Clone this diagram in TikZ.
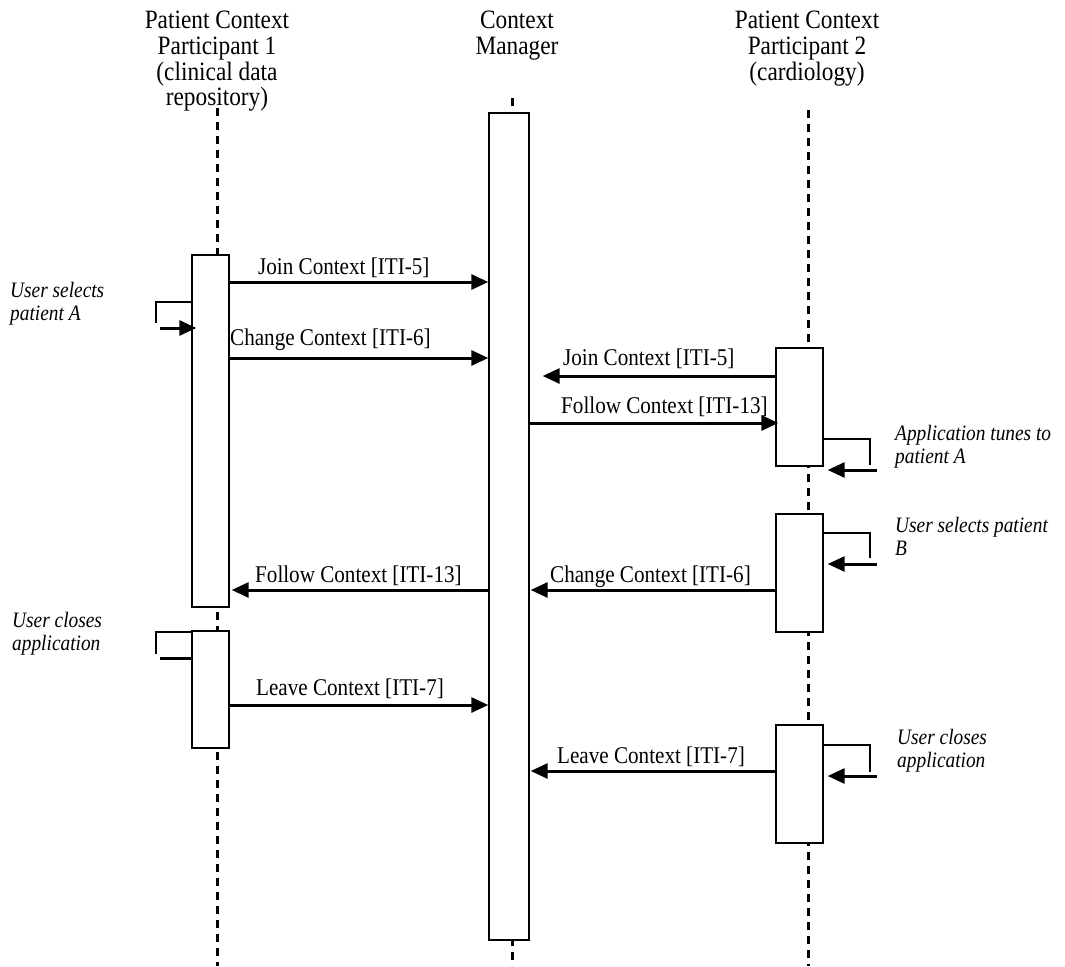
\documentclass[tikz,border=0pt]{standalone}
\usepackage{fontspec}
\setmainfont{Liberation Serif}[FakeStretch=0.88]
\usetikzlibrary{arrows.meta}
\begin{document}
\begin{tikzpicture}[x=1pt,y=-1pt,
  lifeline/.style={line width=3pt,dash pattern=on 8pt off 6pt},
  actbox/.style={draw,line width=1.4pt,fill=white,rectangle,inner sep=0pt},
  msg/.style={line width=3pt,-{Triangle[length=17pt,width=15pt]}},
  thin/.style={line width=1.3pt},
  thick/.style={line width=3pt},
  lbl/.style={anchor=base west,inner sep=0pt,font=\fontsize{24}{24}\selectfont},
  note/.style={anchor=base west,inner sep=0pt,align=left,font=\fontsize{22}{22.5}\selectfont\itshape},
  head/.style={anchor=north,inner sep=0pt,align=center,font=\fontsize{26.5}{25.7}\selectfont}]
\useasboundingbox (0,0) rectangle (1065,966);
% headers
\node[head] (H1) at (217,11) {Patient Context\\Participant 1\\(clinical data\\repository)};
\node[head] (H2) at (517,11) {Context\\Manager};
\node[head] (H3) at (807,11) {Patient Context\\Participant 2\\(cardiology)};
% lifelines
\coordinate (l1t) at (217,108); \coordinate (l1b) at (217,966);
\coordinate (l2t) at (512,98);  \coordinate (l2b) at (512,966);
\coordinate (l3t) at (808,110); \coordinate (l3b) at (808,966);
\draw[lifeline] (l1t) -- (l1b);
\draw[lifeline] (l2t) -- (l2b);
\draw[lifeline] (l3t) -- (l3b);
% activation boxes
\node[actbox,minimum width=37pt,minimum height=352pt] (L1) at (210.5,431) {};
\node[actbox,minimum width=37pt,minimum height=117pt] (L2) at (210.5,689.5) {};
\node[actbox,minimum width=40pt,minimum height=827pt] (C) at (509,526.5) {};
\node[actbox,minimum width=47pt,minimum height=118pt] (R1) at (799.5,407) {};
\node[actbox,minimum width=47pt,minimum height=118pt] (R2) at (799.5,573) {};
\node[actbox,minimum width=47pt,minimum height=118pt] (R3) at (799.5,784) {};
% messages
\draw[msg] (L1.east |- 0,282) -- (C.west |- 0,282);
\node[lbl] (m1) at (258,274) {Join Context [ITI-5]};
\draw[msg] (L1.east |- 0,358) -- (C.west |- 0,358);
\node[lbl] (m2) at (230,345) {Change Context [ITI-6]};
\draw[msg] (R1.west |- 0,376) -- ([xshift=13pt]C.east |- 0,376);
\node[lbl] (m3) at (563,365) {Join Context [ITI-5]};
\draw[msg] (C.east |- 0,423) -- ([xshift=3pt]R1.west |- 0,423);
\node[lbl] (m4) at (561,413) {Follow Context [ITI-13]};
\draw[msg] (C.west |- 0,590) -- ([xshift=2pt]L1.east |- 0,590);
\node[lbl] (m5) at (255,582) {Follow Context [ITI-13]};
\draw[msg] (R2.west |- 0,590) -- ([xshift=1pt]C.east |- 0,590);
\node[lbl] (m6) at (550,582) {Change Context [ITI-6]};
\draw[msg] (L2.east |- 0,705) -- (C.west |- 0,705);
\node[lbl] (m7) at (256,695) {Leave Context [ITI-7]};
\draw[msg] (R3.west |- 0,771) -- ([xshift=1pt]C.east |- 0,771);
\node[lbl] (m8) at (557,763) {Leave Context [ITI-7]};
% self actions
\coordinate (s1a) at (156,302); \coordinate (s1b) at (156,323); \coordinate (s1c) at (160,328);
\draw[thin] (L1.west |- s1a) -- (s1a) -- (s1b);
\draw[msg] (s1c) -- ([xshift=5pt]L1.west |- s1c);
\node[note] (n1) at (10,320) {User selects\\patient A};
\coordinate (s2a) at (156,632); \coordinate (s2b) at (156,654); \coordinate (s2c) at (160,658);
\draw[thin] (L2.west |- s2a) -- (s2a) -- (s2b);
\draw[thick] (s2c) -- (L2.west |- s2c);
\node[note] (n2) at (12,650) {User closes\\application};
\coordinate (s3a) at (870,439); \coordinate (s3b) at (870,465); \coordinate (s3c) at (877,470);
\draw[thin] (R1.east |- s3a) -- (s3a) -- (s3b);
\draw[msg] (s3c) -- ([xshift=4pt]R1.east |- s3c);
\node[note] (n3) at (895,463) {Application tunes to\\patient A};
\coordinate (s4a) at (870,533); \coordinate (s4b) at (870,558); \coordinate (s4c) at (877,564);
\draw[thin] (R2.east |- s4a) -- (s4a) -- (s4b);
\draw[msg] (s4c) -- ([xshift=4pt]R2.east |- s4c);
\node[note] (n4) at (895,555) {User selects patient\\B};
\coordinate (s5a) at (870,745); \coordinate (s5b) at (870,772); \coordinate (s5c) at (877,776);
\draw[thin] (R3.east |- s5a) -- (s5a) -- (s5b);
\draw[msg] (s5c) -- ([xshift=4pt]R3.east |- s5c);
\node[note] (n5) at (897,767) {User closes\\application};
\end{tikzpicture}
\end{document}
